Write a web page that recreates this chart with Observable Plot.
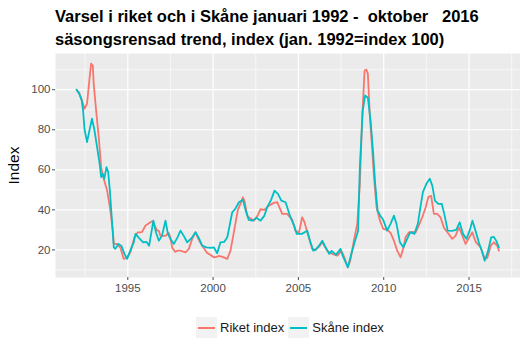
<!DOCTYPE html>
<html>
<head>
<meta charset="utf-8">
<script src="https://cdn.jsdelivr.net/npm/d3@7"></script>
<script src="https://cdn.jsdelivr.net/npm/@observablehq/plot@0.6"></script>
<style>
  html, body { margin: 0; padding: 0; background: #fff; }
  body { width: 528px; height: 355px; position: relative; overflow: hidden; font-family: "Liberation Sans", Arial, sans-serif; }
  #title { position: absolute; left: 55px; top: 5px; font-weight: bold; font-size: 16.5px; line-height: 23px; color: #000; white-space: pre; }
  #chart { position: absolute; left: 0; top: 50px; }
  #legend { position: absolute; left: 196px; top: 317px; display: flex; align-items: center; font-size: 13px; color: #1a1a1a; }
  .key { width: 21px; height: 21px; background: #F2F2F2; position: relative; margin-right: 3px; }
  .key span { position: absolute; left: 2px; right: 2px; top: 9.5px; height: 2px; }
  .lab { margin-right: 4px; }
</style>
</head>
<body>
<div id="title"></div>
<div id="chart"></div>
<div id="legend"></div>
<script>
const titleLines = ["Varsel i riket och i Skåne januari 1992 -  oktober   2016", "säsongsrensad trend, index (jan. 1992=index 100)"];
const yLabel = "Index";
const seriesNames = ["Riket index", "Skåne index"];
const seriesColors = ["#F8766D", "#00BFC4"];
const xTicks = [1995, 2000, 2005, 2010, 2015];
const xMinor = [1992.5, 1997.5, 2002.5, 2007.5, 2012.5, 2017.5];
const yTicks = [20, 40, 60, 80, 100];
const yMinor = [10, 30, 50, 70, 90, 110];

const riketT = [1992.0,1992.15,1992.3,1992.46,1992.61,1992.75,1992.85,1992.95,1993.0,1993.14,1993.3,1993.44,1993.59,1993.79,1993.98,1994.12,1994.18,1994.37,1994.57,1994.76,1994.96,1995.16,1995.39,1995.59,1995.74,1995.84,1996.04,1996.33,1996.43,1996.52,1996.72,1996.82,1996.91,1997.21,1997.4,1997.5,1997.6,1997.79,1997.89,1998.09,1998.38,1998.58,1998.77,1998.97,1999.16,1999.36,1999.65,1999.85,2000.04,2000.24,2000.34,2000.55,2000.83,2001.02,2001.22,2001.45,2001.6,2001.75,2001.85,2002.0,2002.09,2002.39,2002.6,2002.78,2003.0,2003.27,2003.56,2003.76,2003.9,2004.05,2004.34,2004.64,2004.83,2005.03,2005.22,2005.35,2005.52,2005.81,2006.0,2006.2,2006.4,2006.69,2006.98,2007.28,2007.47,2007.57,2007.7,2007.9,2008.05,2008.25,2008.45,2008.6,2008.74,2008.88,2008.98,2009.07,2009.19,2009.33,2009.43,2009.58,2009.78,2009.97,2010.21,2010.4,2010.6,2010.79,2010.99,2011.15,2011.28,2011.48,2011.67,2011.87,2012.06,2012.26,2012.46,2012.62,2012.78,2012.94,2013.14,2013.33,2013.53,2013.73,2014.02,2014.21,2014.41,2014.61,2014.8,2015.0,2015.19,2015.39,2015.68,2015.92,2016.07,2016.27,2016.46,2016.66,2016.75];
const riketV = [100,98.5,95,90.5,93,105,113,112,103,90,76,61,55.5,49.6,39.6,29.6,23,23,21,15.5,16.3,19,26.3,28.8,28.8,29,32.2,33.8,34.3,33,29.6,29.6,27.1,27,28.5,26,21,19,19.6,19.6,18.8,20.5,25.5,28.8,25,22.1,18.5,17.5,16.3,16.6,17,16.5,15.5,19.6,29,40,43,46.3,44,37.1,36.3,34.6,37,40.3,40,42.1,43.5,43.8,41,38,38,35,29.6,28.5,36.3,34,28.8,20.5,20,21.5,23.8,19.6,18,17.1,19,18.8,16,11.3,15,24.6,33,53,86.3,109.6,110,108,86.3,69.6,56.3,41.3,34.6,30.5,30,28.5,24.6,19.6,16.3,21,26.3,28.8,29,28.8,32.2,36.3,41.3,46.5,47,38,38,36.3,31,28.8,25.5,27,31.3,27,23,26,28.8,24,21.3,15.5,16,22.1,23.8,22,19.6];

const skaneT = [1992.0,1992.15,1992.3,1992.38,1992.46,1992.61,1992.75,1992.9,1993.05,1993.2,1993.35,1993.44,1993.53,1993.62,1993.75,1993.85,1993.95,1994.07,1994.18,1994.27,1994.45,1994.63,1994.8,1994.96,1995.16,1995.35,1995.45,1995.65,1995.9,1996.1,1996.25,1996.4,1996.5,1996.65,1996.82,1997.0,1997.21,1997.35,1997.5,1997.7,1997.9,1998.09,1998.28,1998.48,1998.75,1998.97,1999.16,1999.36,1999.6,1999.85,2000.04,2000.24,2000.43,2000.65,2000.83,2000.95,2001.12,2001.3,2001.51,2001.75,2001.9,2002.09,2002.3,2002.55,2002.78,2003.0,2003.17,2003.4,2003.6,2003.8,2004.0,2004.25,2004.5,2004.75,2004.9,2005.2,2005.52,2005.7,2005.87,2006.0,2006.2,2006.4,2006.55,2006.8,2006.95,2007.2,2007.47,2007.6,2007.9,2008.1,2008.3,2008.5,2008.6,2008.77,2008.91,2009.07,2009.23,2009.37,2009.5,2009.64,2009.8,2009.97,2010.2,2010.4,2010.6,2010.75,2010.95,2011.15,2011.35,2011.55,2011.8,2012.0,2012.2,2012.3,2012.5,2012.7,2012.85,2013.0,2013.2,2013.4,2013.55,2013.75,2014.0,2014.25,2014.45,2014.65,2014.85,2015.05,2015.2,2015.4,2015.6,2015.75,2015.92,2016.1,2016.3,2016.45,2016.6,2016.75];
const skaneV = [100,98,94.7,89.6,80.5,73.8,79.6,85.5,79.6,71.3,63,56.3,58,55.5,61.3,59,49.6,34.6,21.3,20.5,23,22,18,15.5,20,23.8,28,26,23.8,24,22.1,29.6,34.6,28.8,24.6,27,34.6,28,25.5,23,26,29.6,27,23.8,26,28.8,26,22.1,21.3,21,21.3,18.3,23.8,24,26.3,31.3,38.8,40.5,43.8,45,40,35,34.6,36,34.6,37,41.3,45,49.6,48,44.6,43.8,37.1,32,28,28,29.6,24,19.6,20,22,24.6,22,18,19.5,17.5,20.5,17,11.3,18,24,29.6,61.3,89.6,97.1,96,84.6,69.6,53,39.6,37.1,35,29.6,33,37.1,33,23.8,21.3,25,28.8,28,33,44,49,53,55.5,52,44.6,43,43,38,29.6,29.5,30,33.8,28,25.5,30,34.6,29,23,19.6,14.6,19,26.3,26.5,24.5,21.3];

document.getElementById("title").textContent = titleLines.join("\n");

const rows = [];
riketT.forEach((t, i) => rows.push({t, v: riketV[i], s: seriesNames[0]}));
skaneT.forEach((t, i) => rows.push({t, v: skaneV[i], s: seriesNames[1]}));

const allV = riketV.concat(skaneV);
const yMin = d3.min(allV), yMax = d3.max(allV);
const yPad = (yMax - yMin) * 0.05;
const xMin = d3.min(riketT), xMax = d3.max(riketT);
const xPad = (xMax - xMin) * 0.05;

const chart = Plot.plot({
  width: 528,
  height: 252,
  marginLeft: 55,
  marginRight: 8.5,
  marginTop: 3,
  marginBottom: 25,
  style: {fontFamily: "'Liberation Sans', Arial, sans-serif", background: "transparent"},
  x: {domain: [xMin - xPad, xMax + xPad]},
  y: {domain: [yMin - yPad, yMax + yPad]},
  color: {domain: seriesNames, range: seriesColors},
  marks: [
    Plot.frame({fill: "#EBEBEB", stroke: "none"}),
    Plot.ruleX(xMinor, {stroke: "white", strokeWidth: 0.6}),
    Plot.ruleY(yMinor, {stroke: "white", strokeWidth: 0.6}),
    Plot.ruleX(xTicks, {stroke: "white", strokeWidth: 1.2}),
    Plot.ruleY(yTicks, {stroke: "white", strokeWidth: 1.2}),
    Plot.line(rows, {x: "t", y: "v", z: "s", stroke: "s", strokeWidth: 1.8}),
    Plot.axisX(xTicks, {tickSize: 3, tickPadding: 3, fontSize: 11.5, color: "#4D4D4D", tickFormat: d => String(d), label: null}),
    Plot.axisY(yTicks, {tickSize: 3, tickPadding: 2, fontSize: 11.5, color: "#4D4D4D", label: null}),
    Plot.text([yLabel], {frameAnchor: "left", textAnchor: "middle", dx: -41, rotate: -90, fontSize: 15.5, fill: "#000"})
  ]
});
document.getElementById("chart").appendChild(chart);

const legend = document.getElementById("legend");
seriesNames.forEach((name, i) => {
  const key = document.createElement("div");
  key.className = "key";
  const ln = document.createElement("span");
  ln.style.background = seriesColors[i];
  key.appendChild(ln);
  const lab = document.createElement("div");
  lab.className = "lab";
  lab.textContent = name;
  legend.appendChild(key);
  legend.appendChild(lab);
});
</script>
</body>
</html>
